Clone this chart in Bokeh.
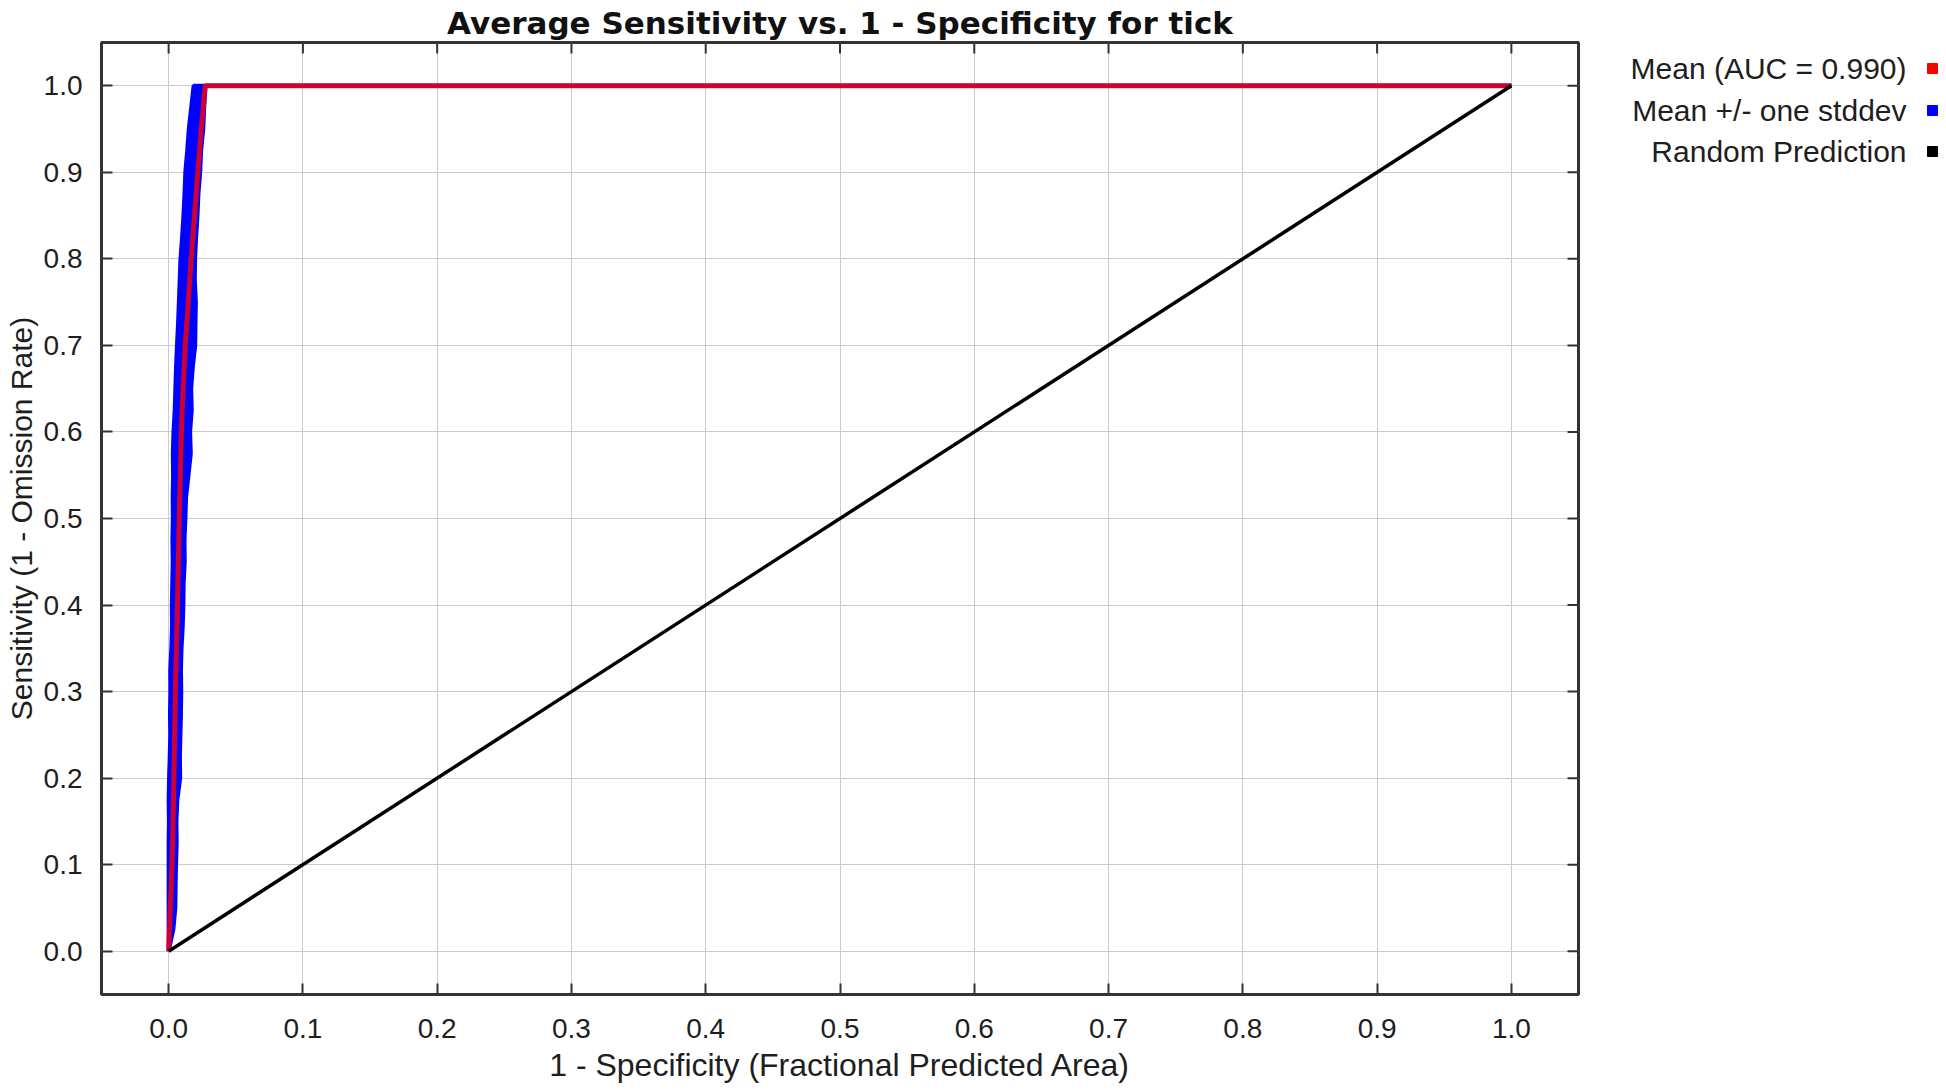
from bokeh.plotting import figure
from bokeh.models import Range1d, FixedTicker, ColumnDataSource
from bokeh.layouts import row
from bokeh.embed import file_html
from bokeh.resources import INLINE
from bokeh.core.properties import value

# ---------------- data ----------------
title_text = "Average Sensitivity vs. 1 - Specificity for tick"
x_label = "1 - Specificity (Fractional Predicted Area)"
y_label = "Sensitivity (1 - Omission Rate)"

tick_vals = [0.0, 0.1, 0.2, 0.3, 0.4, 0.5, 0.6, 0.7, 0.8, 0.9, 1.0]
tick_labels = ["0.0", "0.1", "0.2", "0.3", "0.4", "0.5", "0.6", "0.7", "0.8", "0.9", "1.0"]

# sensitivity levels
sens = [0.000, 0.025, 0.050, 0.075, 0.100, 0.125, 0.150, 0.175, 0.200, 0.225,
        0.250, 0.275, 0.300, 0.325, 0.350, 0.375, 0.400, 0.425, 0.450, 0.475,
        0.500, 0.525, 0.550, 0.575, 0.600, 0.625, 0.650, 0.675, 0.700, 0.725,
        0.750, 0.775, 0.800, 0.825, 0.850, 0.875, 0.900, 0.925, 0.950, 0.975,
        1.000]
# fractional predicted area of the mean curve
mean_fpa = [0.0000, 0.0006, 0.0012, 0.0019, 0.0025, 0.0029, 0.0033, 0.0036, 0.0039, 0.0042,
            0.0045, 0.0048, 0.0050, 0.0054, 0.0058, 0.0062, 0.0066, 0.0069, 0.0072, 0.0076,
            0.0079, 0.0083, 0.0087, 0.0091, 0.0095, 0.0101, 0.0108, 0.0116, 0.0124, 0.0135,
            0.0146, 0.0157, 0.0169, 0.0180, 0.0192, 0.0205, 0.0217, 0.0230, 0.0243, 0.0258,
            0.0272]
# mean + one stddev (left edge of band)
upper_fpa = [0.0000, 0.0000, 0.0000, 0.0000, 0.0000, 0.0000, 0.0002, 0.0000, 0.0003, 0.0008,
             0.0012, 0.0010, 0.0013, 0.0012, 0.0020, 0.0025, 0.0024, 0.0027, 0.0030, 0.0028,
             0.0031, 0.0030, 0.0033, 0.0031, 0.0036, 0.0045, 0.0050, 0.0055, 0.0062, 0.0070,
             0.0076, 0.0082, 0.0088, 0.0100, 0.0110, 0.0118, 0.0124, 0.0138, 0.0150, 0.0168,
             0.0186]
# mean - one stddev (right edge of band)
lower_fpa = [0.0000, 0.0035, 0.0050, 0.0052, 0.0055, 0.0060, 0.0058, 0.0065, 0.0086, 0.0084,
             0.0088, 0.0092, 0.0094, 0.0092, 0.0096, 0.0105, 0.0110, 0.0112, 0.0120, 0.0118,
             0.0125, 0.0130, 0.0148, 0.0165, 0.0160, 0.0172, 0.0168, 0.0180, 0.0198, 0.0200,
             0.0203, 0.0195, 0.0197, 0.0205, 0.0215, 0.0222, 0.0235, 0.0242, 0.0258, 0.0265,
             0.0275]
end_fpa = 1.0
end_sens = 1.0

random_fpa = [0.0, 1.0]
random_sens = [0.0, 1.0]

legend_labels = ["Mean (AUC = 0.990)", "Mean +/- one stddev", "Random Prediction"]
legend_colors = ["#ff0000", "#0000ff", "#000000"]

# ---------------- styling / layout ----------------
FONT = "Liberation Sans"
GRID = "#cccccc"
FRAME = "#333333"
TXT = "#1e1e1e"

H = 1091
W_MAIN = 1582
W_LEG = 1946 - W_MAIN
BORDER_L, BORDER_R, BORDER_T, BORDER_B = 101, 4, 42, 97
X0, X1, Y0, Y1 = -0.05, 1.05, -0.05, 1.05
FRAME_W = W_MAIN - BORDER_L - BORDER_R
FRAME_H = H - BORDER_T - BORDER_B
TICK_PX = 11

p = figure(width=W_MAIN, height=H, x_range=Range1d(X0, X1), y_range=Range1d(Y0, Y1),
           output_backend="svg", toolbar_location=None,
           min_border_left=BORDER_L, min_border_right=BORDER_R,
           min_border_top=BORDER_T, min_border_bottom=BORDER_B)

p.title.text = title_text
p.title.align = "center"
p.title.text_font = "DejaVu Sans"
p.title.text_font_size = "31px"
p.title.text_font_style = "bold"
p.title.text_color = "#111111"
p.title.standoff = 4

p.outline_line_color = FRAME
p.outline_line_width = 3
p.background_fill_color = "white"
p.border_fill_color = "white"

ticker = FixedTicker(ticks=tick_vals)
overrides = {v: s for v, s in zip(tick_vals, tick_labels)}

for ax in (p.xaxis[0], p.yaxis[0]):
    ax.ticker = ticker
    ax.major_label_overrides = overrides
    ax.major_tick_in = TICK_PX
    ax.major_tick_out = 0
    ax.major_tick_line_color = FRAME
    ax.major_tick_line_width = 2
    ax.minor_tick_line_color = None
    ax.axis_line_color = None
    ax.major_label_text_font = FONT
    ax.major_label_text_font_size = "28px"
    ax.major_label_text_color = TXT
    ax.axis_label_text_font = FONT
    ax.axis_label_text_font_style = "normal"
    ax.axis_label_text_color = TXT

p.xaxis.axis_label = x_label
p.yaxis.axis_label = y_label
p.xaxis.axis_label_text_font_size = "32px"
p.yaxis.axis_label_text_font_size = "30px"
p.xaxis.major_label_standoff = 24
p.xaxis.axis_label_standoff = 6
p.yaxis.major_label_standoff = 19
p.yaxis.axis_label_standoff = 3

p.xgrid.ticker = ticker
p.ygrid.ticker = ticker
p.grid.grid_line_color = GRID
p.grid.grid_line_width = 1

# inward tick marks on the top and right edges of the frame
dy_tick = TICK_PX * (Y1 - Y0) / FRAME_H
dx_tick = TICK_PX * (X1 - X0) / FRAME_W
p.segment(x0=tick_vals, x1=tick_vals, y0=[Y1] * len(tick_vals), y1=[Y1 - dy_tick] * len(tick_vals),
          line_color=FRAME, line_width=2)
p.segment(x0=[X1] * len(tick_vals), x1=[X1 - dx_tick] * len(tick_vals), y0=tick_vals, y1=tick_vals,
          line_color=FRAME, line_width=2)

# stddev band
band = ColumnDataSource(dict(y=sens, x1=upper_fpa, x2=lower_fpa))
p.harea(x1="x1", x2="x2", y="y", source=band, fill_color="#0000ff", fill_alpha=1.0)
p.line(upper_fpa + [end_fpa], sens + [end_sens], line_color="#0000ff", line_width=4)
p.line(lower_fpa + [end_fpa], sens + [end_sens], line_color="#0000ff", line_width=4)

# mean
p.line(mean_fpa + [end_fpa], sens + [end_sens], line_color="#ff0000", line_width=5, line_alpha=0.8)

# random prediction
p.line(random_fpa, random_sens, line_color="#000000", line_width=3.5)

# ---------------- legend panel (its frame is aligned with the main frame) ----------------
leg = figure(width=W_LEG, height=H, x_range=Range1d(0, W_LEG),
             y_range=Range1d(H - BORDER_B, BORDER_T),
             output_backend="svg", toolbar_location=None, x_axis_type=None, y_axis_type=None,
             min_border=0)
leg.outline_line_color = None
leg.grid.visible = False
leg_src = ColumnDataSource(dict(
    label=legend_labels, color=legend_colors,
    tx=[324] * 3, mx=[350] * 3, y=[68, 110, 151]))
leg.text(x="tx", y="y", text="label", source=leg_src, text_align="right", text_baseline="middle",
         text_font=value(FONT), text_font_size="30px", text_color=TXT)
leg.scatter(x="mx", y="y", marker="square", size=10, source=leg_src,
            fill_color="color", line_color="color")

layout = row(p, leg, spacing=0)
open("out.html", "w").write(file_html(layout, INLINE))
